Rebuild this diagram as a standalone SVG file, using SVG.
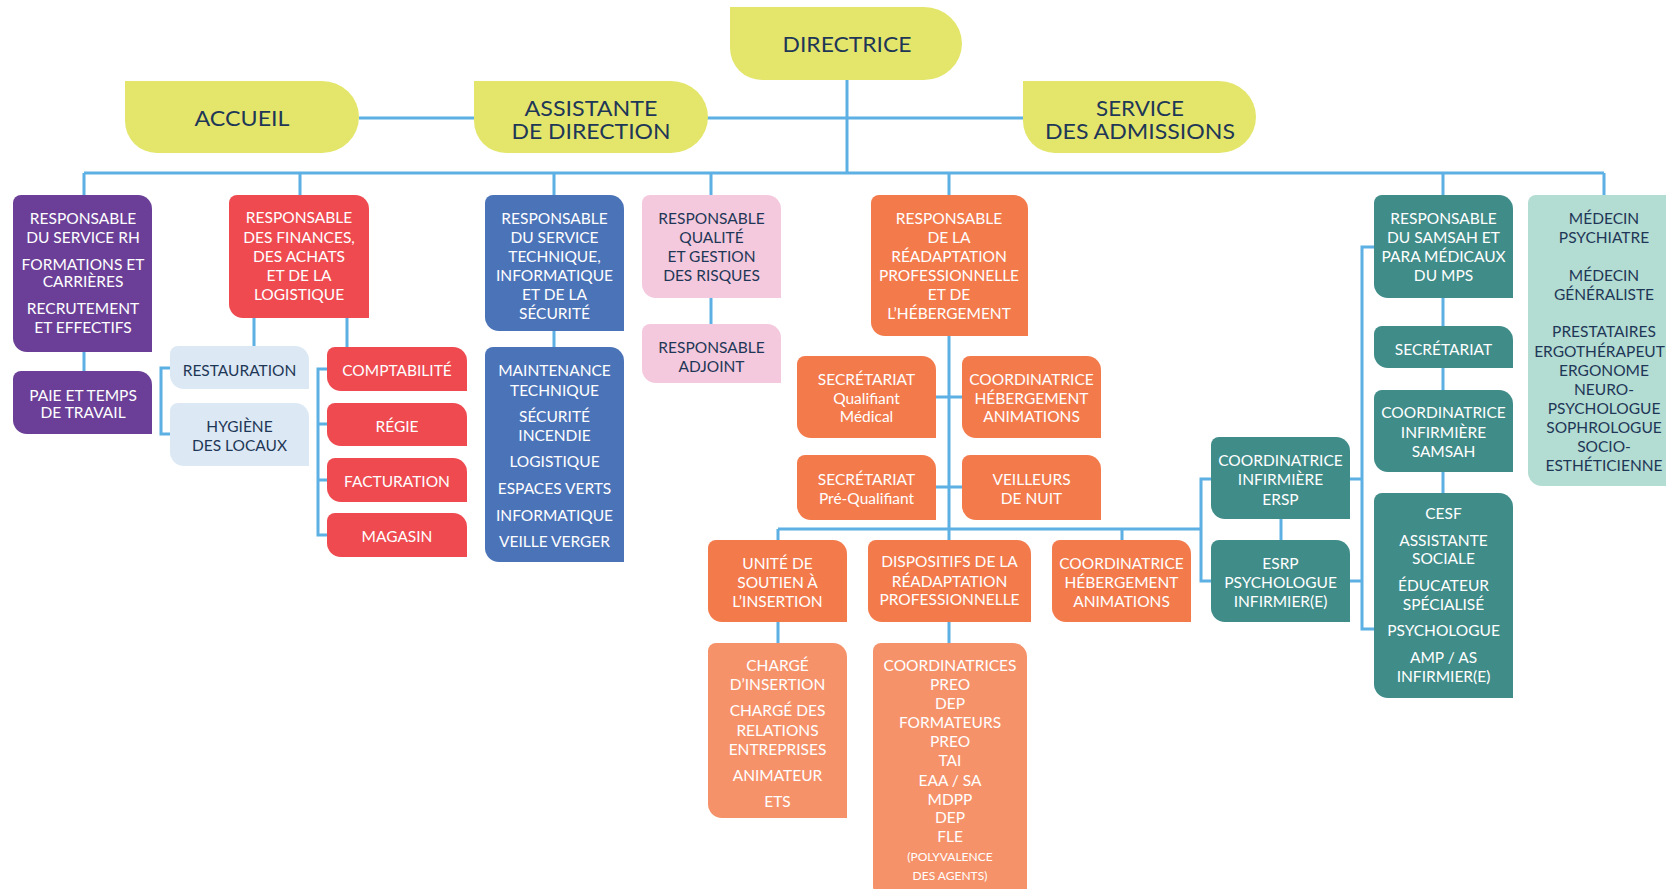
<svg xmlns="http://www.w3.org/2000/svg" width="1666" height="889" viewBox="0 0 1666 889">
<style>
text{font-family:Lato,"Open Sans","Liberation Sans",sans-serif;text-anchor:middle;font-size:15.5px;fill:#ffffff}
.dk{fill:#1f3757}
.hd{font-size:22px;fill:#1f3757}
.sm{font-size:12px}
.yel{fill:#e4e66b}
.pur{fill:#6b3f97}
.red{fill:#ee4a50}
.lbl{fill:#dce9f4}
.blu{fill:#4b73b8}
.pnk{fill:#f4c9dd}
.org{fill:#f37a4b}
.lor{fill:#f6926a}
.tea{fill:#3f8c89}
.lte{fill:#b3dcd2}
#connectors path{fill:none;stroke:#5db0e3;stroke-width:3}
</style>
<rect width="1666" height="889" fill="#ffffff"/>
<g id="connectors">
<path d="M847,80 V173"/>
<path d="M359,118 H1023"/>
<path d="M84,173 H1604"/>
<path d="M84,173 V195 M300,173 V195 M554,173 V195 M711,173 V195 M949,173 V195 M1443,173 V195 M1604,173 V195"/>
<path d="M84,352 V371"/>
<path d="M254,318 V346 M347,318 V347"/>
<path d="M170,368 H161 V434 H170"/>
<path d="M327,369 H318 V535 H327 M318,424 H327 M318,480 H327"/>
<path d="M554,331 V347"/>
<path d="M711,298 V324"/>
<path d="M949,336 V540 M936,397 H962 M936,487 H962"/>
<path d="M778,529 H1201 M778,529 V540 M1122,529 V540"/>
<path d="M1211,479 H1201 V581 H1211"/>
<path d="M1281,519 V540"/>
<path d="M1374,247 H1362 V629 H1374 M1350,479 H1362 M1350,581 H1362"/>
<path d="M1443,298 V326 M1443,368 V390 M1443,472 V493"/>
<path d="M778,622 V643 M949,622 V643"/>
</g>
<g id="directrice">
<path class="yel" d="M730,7 H924 A38 36.5 0 0 1 962,43.5 A38 36.5 0 0 1 924,80 H762 A32 32 0 0 1 730,48 Z"/>
<text class="hd" x="847" y="52" textLength="129" lengthAdjust="spacingAndGlyphs">DIRECTRICE</text>
</g>
<g id="accueil">
<path class="yel" d="M125,81 H322 A37 36 0 0 1 359,117 A37 36 0 0 1 322,153 H157 A32 32 0 0 1 125,121 Z"/>
<text class="hd" x="242" y="126" textLength="95" lengthAdjust="spacingAndGlyphs">ACCUEIL</text>
</g>
<g id="assistante">
<path class="yel" d="M474,81 H671 A37 36 0 0 1 708,117 A37 36 0 0 1 671,153 H506 A32 32 0 0 1 474,121 Z"/>
<text class="hd" x="591" y="116" textLength="133" lengthAdjust="spacingAndGlyphs">ASSISTANTE</text>
<text class="hd" x="591" y="139" textLength="159" lengthAdjust="spacingAndGlyphs">DE DIRECTION</text>
</g>
<g id="admissions">
<path class="yel" d="M1023,81 H1219 A37 36 0 0 1 1256,117 A37 36 0 0 1 1219,153 H1055 A32 32 0 0 1 1023,121 Z"/>
<text class="hd" x="1140" y="116" textLength="88" lengthAdjust="spacingAndGlyphs">SERVICE</text>
<text class="hd" x="1140" y="139" textLength="190" lengthAdjust="spacingAndGlyphs">DES ADMISSIONS</text>
</g>
<g id="rh">
<path class="pur" d="M21,195 H138 A14 14 0 0 1 152,209 V352 H27 A14 14 0 0 1 13,338 V203 A8 8 0 0 1 21,195 Z"/>
<text x="83" y="223.6">RESPONSABLE</text>
<text x="83" y="242.6">DU SERVICE RH</text>
<text x="83" y="269.6">FORMATIONS ET</text>
<text x="83" y="287.3">CARRIÈRES</text>
<text x="83" y="313.6">RECRUTEMENT</text>
<text x="83" y="333.3">ET EFFECTIFS</text>
</g>
<g id="paie">
<path class="pur" d="M21,371 H138 A14 14 0 0 1 152,385 V434 H27 A14 14 0 0 1 13,420 V379 A8 8 0 0 1 21,371 Z"/>
<text x="83" y="400.6">PAIE ET TEMPS</text>
<text x="83" y="418.3">DE TRAVAIL</text>
</g>
<g id="finances">
<path class="red" d="M237,195 H355 A14 14 0 0 1 369,209 V318 H243 A14 14 0 0 1 229,304 V203 A8 8 0 0 1 237,195 Z"/>
<text x="299" y="223.3">RESPONSABLE</text>
<text x="299" y="243.3">DES FINANCES,</text>
<text x="299" y="262.3">DES ACHATS</text>
<text x="299" y="280.6">ET DE LA</text>
<text x="299" y="300">LOGISTIQUE</text>
</g>
<g id="restauration">
<path class="lbl" d="M178,346 H295 A14 14 0 0 1 309,360 V389 H184 A14 14 0 0 1 170,375 V354 A8 8 0 0 1 178,346 Z"/>
<text class="dk" x="239.5" y="375.6">RESTAURATION</text>
</g>
<g id="hygiene">
<path class="lbl" d="M178,403 H295 A14 14 0 0 1 309,417 V466 H184 A14 14 0 0 1 170,452 V411 A8 8 0 0 1 178,403 Z"/>
<text class="dk" x="239.5" y="432.3">HYGIÈNE</text>
<text class="dk" x="239.5" y="451.3">DES LOCAUX</text>
</g>
<g id="comptabilite">
<path class="red" d="M335,347 H453 A14 14 0 0 1 467,361 V391 H341 A14 14 0 0 1 327,377 V355 A8 8 0 0 1 335,347 Z"/>
<text x="397" y="376.3">COMPTABILITÉ</text>
</g>
<g id="regie">
<path class="red" d="M335,403 H453 A14 14 0 0 1 467,417 V446 H341 A14 14 0 0 1 327,432 V411 A8 8 0 0 1 335,403 Z"/>
<text x="397" y="431.6">RÉGIE</text>
</g>
<g id="facturation">
<path class="red" d="M335,458 H453 A14 14 0 0 1 467,472 V502 H341 A14 14 0 0 1 327,488 V466 A8 8 0 0 1 335,458 Z"/>
<text x="397" y="487.3">FACTURATION</text>
</g>
<g id="magasin">
<path class="red" d="M335,513 H453 A14 14 0 0 1 467,527 V557 H341 A14 14 0 0 1 327,543 V521 A8 8 0 0 1 335,513 Z"/>
<text x="397" y="542.3">MAGASIN</text>
</g>
<g id="technique">
<path class="blu" d="M493,195 H610 A14 14 0 0 1 624,209 V331 H499 A14 14 0 0 1 485,317 V203 A8 8 0 0 1 493,195 Z"/>
<text x="554.5" y="223.9">RESPONSABLE</text>
<text x="554.5" y="242.9">DU SERVICE</text>
<text x="554.5" y="262.3">TECHNIQUE,</text>
<text x="554.5" y="280.6">INFORMATIQUE</text>
<text x="554.5" y="299.9">ET DE LA</text>
<text x="554.5" y="318.9">SÉCURITÉ</text>
</g>
<g id="technique-equipe">
<path class="blu" d="M493,347 H610 A14 14 0 0 1 624,361 V562 H499 A14 14 0 0 1 485,548 V355 A8 8 0 0 1 493,347 Z"/>
<text x="554.5" y="376.3">MAINTENANCE</text>
<text x="554.5" y="395.6">TECHNIQUE</text>
<text x="554.5" y="422.3">SÉCURITÉ</text>
<text x="554.5" y="440.6">INCENDIE</text>
<text x="554.5" y="467.3">LOGISTIQUE</text>
<text x="554.5" y="493.9">ESPACES VERTS</text>
<text x="554.5" y="520.6">INFORMATIQUE</text>
<text x="554.5" y="547.3">VEILLE VERGER</text>
</g>
<g id="qualite">
<path class="pnk" d="M650,195 H767 A14 14 0 0 1 781,209 V298 H656 A14 14 0 0 1 642,284 V203 A8 8 0 0 1 650,195 Z"/>
<text class="dk" x="711.5" y="223.9">RESPONSABLE</text>
<text class="dk" x="711.5" y="242.9">QUALITÉ</text>
<text class="dk" x="711.5" y="262.3">ET GESTION</text>
<text class="dk" x="711.5" y="280.6">DES RISQUES</text>
</g>
<g id="adjoint">
<path class="pnk" d="M650,324 H767 A14 14 0 0 1 781,338 V383 H656 A14 14 0 0 1 642,369 V332 A8 8 0 0 1 650,324 Z"/>
<text class="dk" x="711.5" y="353.3">RESPONSABLE</text>
<text class="dk" x="711.5" y="372.3">ADJOINT</text>
</g>
<g id="readaptation">
<path class="org" d="M879,195 H1014 A14 14 0 0 1 1028,209 V336 H885 A14 14 0 0 1 871,322 V203 A8 8 0 0 1 879,195 Z"/>
<text x="949" y="223.9">RESPONSABLE</text>
<text x="949" y="242.9">DE LA</text>
<text x="949" y="262.3">RÉADAPTATION</text>
<text x="949" y="280.6">PROFESSIONNELLE</text>
<text x="949" y="299.9">ET DE</text>
<text x="949" y="318.9">L’HÉBERGEMENT</text>
</g>
<g id="secretariat-qm">
<path class="org" d="M805,356 H922 A14 14 0 0 1 936,370 V438 H811 A14 14 0 0 1 797,424 V364 A8 8 0 0 1 805,356 Z"/>
<text x="866.5" y="384.9">SECRÉTARIAT</text>
<text x="866.5" y="403.9">Qualifiant</text>
<text x="866.5" y="422.3">Médical</text>
</g>
<g id="coord-hebergement">
<path class="org" d="M970,356 H1087 A14 14 0 0 1 1101,370 V438 H976 A14 14 0 0 1 962,424 V364 A8 8 0 0 1 970,356 Z"/>
<text x="1031.5" y="384.9">COORDINATRICE</text>
<text x="1031.5" y="403.9">HÉBERGEMENT</text>
<text x="1031.5" y="422.3">ANIMATIONS</text>
</g>
<g id="secretariat-pq">
<path class="org" d="M805,455 H922 A14 14 0 0 1 936,469 V520 H811 A14 14 0 0 1 797,506 V463 A8 8 0 0 1 805,455 Z"/>
<text x="866.5" y="484.6">SECRÉTARIAT</text>
<text x="866.5" y="503.9">Pré-Qualifiant</text>
</g>
<g id="veilleurs">
<path class="org" d="M970,455 H1087 A14 14 0 0 1 1101,469 V520 H976 A14 14 0 0 1 962,506 V463 A8 8 0 0 1 970,455 Z"/>
<text x="1031.5" y="484.6">VEILLEURS</text>
<text x="1031.5" y="503.9">DE NUIT</text>
</g>
<g id="unite-soutien">
<path class="org" d="M716,540 H833 A14 14 0 0 1 847,554 V622 H722 A14 14 0 0 1 708,608 V548 A8 8 0 0 1 716,540 Z"/>
<text x="777.5" y="568.6">UNITÉ DE</text>
<text x="777.5" y="587.6">SOUTIEN À</text>
<text x="777.5" y="606.6">L’INSERTION</text>
</g>
<g id="dispositifs">
<path class="org" d="M876,540 H1017 A14 14 0 0 1 1031,554 V622 H882 A14 14 0 0 1 868,608 V548 A8 8 0 0 1 876,540 Z"/>
<text x="949.5" y="567.3">DISPOSITIFS DE LA</text>
<text x="949.5" y="587.3">RÉADAPTATION</text>
<text x="949.5" y="604.9">PROFESSIONNELLE</text>
</g>
<g id="coord-hebergement-2">
<path class="org" d="M1060,540 H1177 A14 14 0 0 1 1191,554 V622 H1066 A14 14 0 0 1 1052,608 V548 A8 8 0 0 1 1060,540 Z"/>
<text x="1121.5" y="568.6">COORDINATRICE</text>
<text x="1121.5" y="587.6">HÉBERGEMENT</text>
<text x="1121.5" y="606.6">ANIMATIONS</text>
</g>
<g id="charge-insertion">
<path class="lor" d="M716,643 H833 A14 14 0 0 1 847,657 V818 H722 A14 14 0 0 1 708,804 V651 A8 8 0 0 1 716,643 Z"/>
<text x="777.5" y="670.6">CHARGÉ</text>
<text x="777.5" y="689.6">D’INSERTION</text>
<text x="777.5" y="716.3">CHARGÉ DES</text>
<text x="777.5" y="735.6">RELATIONS</text>
<text x="777.5" y="754.6">ENTREPRISES</text>
<text x="777.5" y="780.6">ANIMATEUR</text>
<text x="777.5" y="807.3">ETS</text>
</g>
<g id="coordinatrices">
<path class="lor" d="M881,643 H1013 A14 14 0 0 1 1027,657 V900 H887 A14 14 0 0 1 873,886 V651 A8 8 0 0 1 881,643 Z"/>
<text x="950" y="670.6">COORDINATRICES</text>
<text x="950" y="689.6">PREO</text>
<text x="950" y="708.6">DEP</text>
<text x="950" y="727.6">FORMATEURS</text>
<text x="950" y="747.3">PREO</text>
<text x="950" y="766.3">TAI</text>
<text x="950" y="785.6">EAA / SA</text>
<text x="950" y="804.6">MDPP</text>
<text x="950" y="823.3">DEP</text>
<text x="950" y="842.3">FLE</text>
<text class="sm" x="950" y="861">(POLYVALENCE</text>
<text class="sm" x="950" y="880">DES AGENTS)</text>
</g>
<g id="coord-ersp">
<path class="tea" d="M1219,437 H1336 A14 14 0 0 1 1350,451 V519 H1225 A14 14 0 0 1 1211,505 V445 A8 8 0 0 1 1219,437 Z"/>
<text x="1280.5" y="465.6">COORDINATRICE</text>
<text x="1280.5" y="484.6">INFIRMIÈRE</text>
<text x="1280.5" y="504.6">ERSP</text>
</g>
<g id="esrp">
<path class="tea" d="M1219,540 H1336 A14 14 0 0 1 1350,554 V622 H1225 A14 14 0 0 1 1211,608 V548 A8 8 0 0 1 1219,540 Z"/>
<text x="1280.5" y="568.9">ESRP</text>
<text x="1280.5" y="587.9">PSYCHOLOGUE</text>
<text x="1280.5" y="606.6">INFIRMIER(E)</text>
</g>
<g id="samsah">
<path class="tea" d="M1382,195 H1499 A14 14 0 0 1 1513,209 V298 H1388 A14 14 0 0 1 1374,284 V203 A8 8 0 0 1 1382,195 Z"/>
<text x="1443.5" y="223.9">RESPONSABLE</text>
<text x="1443.5" y="242.9">DU SAMSAH ET</text>
<text x="1443.5" y="262.3">PARA MÉDICAUX</text>
<text x="1443.5" y="280.6">DU MPS</text>
</g>
<g id="secretariat">
<path class="tea" d="M1382,326 H1499 A14 14 0 0 1 1513,340 V368 H1388 A14 14 0 0 1 1374,354 V334 A8 8 0 0 1 1382,326 Z"/>
<text x="1443.5" y="354.6">SECRÉTARIAT</text>
</g>
<g id="coord-samsah">
<path class="tea" d="M1382,390 H1499 A14 14 0 0 1 1513,404 V472 H1388 A14 14 0 0 1 1374,458 V398 A8 8 0 0 1 1382,390 Z"/>
<text x="1443.5" y="418.3">COORDINATRICE</text>
<text x="1443.5" y="437.9">INFIRMIÈRE</text>
<text x="1443.5" y="457.3">SAMSAH</text>
</g>
<g id="cesf">
<path class="tea" d="M1382,493 H1499 A14 14 0 0 1 1513,507 V698 H1388 A14 14 0 0 1 1374,684 V501 A8 8 0 0 1 1382,493 Z"/>
<text x="1443.5" y="518.6">CESF</text>
<text x="1443.5" y="545.6">ASSISTANTE</text>
<text x="1443.5" y="563.6">SOCIALE</text>
<text x="1443.5" y="590.6">ÉDUCATEUR</text>
<text x="1443.5" y="609.6">SPÉCIALISÉ</text>
<text x="1443.5" y="636.3">PSYCHOLOGUE</text>
<text x="1443.5" y="662.6">AMP / AS</text>
<text x="1443.5" y="682.3">INFIRMIER(E)</text>
</g>
<g id="medecins">
<path class="lte" d="M1536,195 H1690 V486 H1542 A14 14 0 0 1 1528,472 V203 A8 8 0 0 1 1536,195 Z"/>
<text class="dk" x="1604" y="223.6">MÉDECIN</text>
<text class="dk" x="1604" y="242.6">PSYCHIATRE</text>
<text class="dk" x="1604" y="280.6">MÉDECIN</text>
<text class="dk" x="1604" y="299.6">GÉNÉRALISTE</text>
<text class="dk" x="1604" y="337.3">PRESTATAIRES</text>
<text class="dk" x="1604" y="357.3">ERGOTHÉRAPEUTE</text>
<text class="dk" x="1604" y="376.3">ERGONOME</text>
<text class="dk" x="1604" y="394.6">NEURO-</text>
<text class="dk" x="1604" y="413.6">PSYCHOLOGUE</text>
<text class="dk" x="1604" y="432.6">SOPHROLOGUE</text>
<text class="dk" x="1604" y="451.6">SOCIO-</text>
<text class="dk" x="1604" y="470.6">ESTHÉTICIENNE</text>
</g>
</svg>
